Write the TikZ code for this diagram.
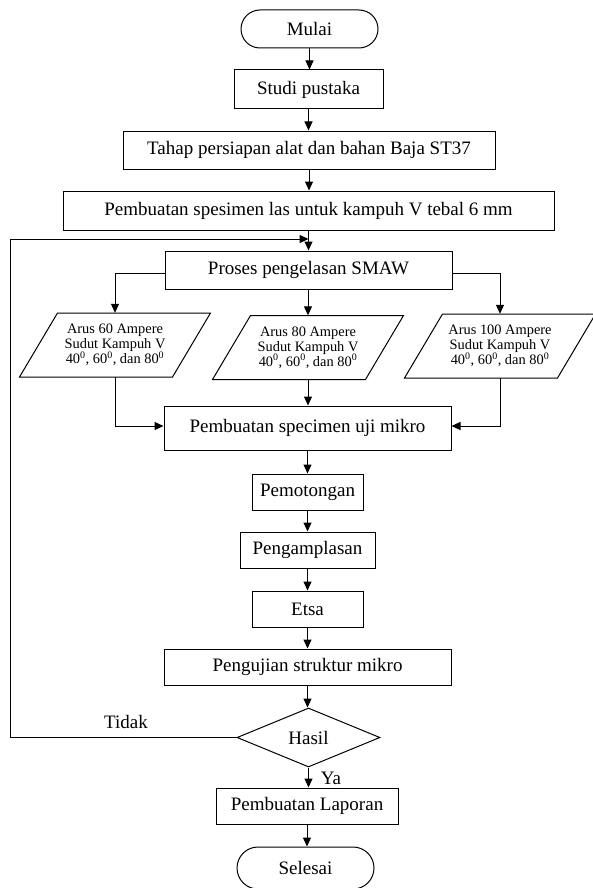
\documentclass[tikz,border=0pt]{standalone}
\usepackage{fontspec}
\setmainfont{Liberation Serif}
\usetikzlibrary{arrows.meta,shapes.geometric,calc}
\begin{document}
\begin{tikzpicture}[x=1pt,y=-1pt,
  box/.style={draw, line width=1pt, inner sep=0pt, font=\fontsize{19}{22}\selectfont},
  arr/.style={line width=1pt, -{Triangle[length=9pt,width=8pt]}},
  ln/.style={line width=1pt},
  para/.style={inner sep=0pt, minimum height=64pt, align=center, font=\fontsize{14.4}{15}\selectfont},
  lbl/.style={inner sep=0pt, font=\fontsize{19}{22}\selectfont}]
\useasboundingbox (0,0) rectangle (592,888);
\node[box, rounded corners=19pt, minimum width=137pt, minimum height=38pt] (mulai) at (309.5,29) {Mulai};
\node[box, minimum width=149pt, minimum height=39pt] (studi) at (308.5,89.5) {Studi pustaka};
\node[box, minimum width=372pt, minimum height=38pt] (tahap) at (309,150) {Tahap persiapan alat dan bahan Baja ST37};
\node[box, minimum width=491pt, minimum height=39pt] (spes) at (308.5,210.5) {Pembuatan spesimen las untuk kampuh V tebal 6 mm};
\node[box, minimum width=287pt, minimum height=38pt] (proses) at (308.5,270) {Proses pengelasan SMAW};
\node[para] (p1) at (115,345) {Arus 60 Ampere\\Sudut Kampuh V\\40\textsuperscript{0}, 60\textsuperscript{0}, dan 80\textsuperscript{0}};
\node[para] (p2) at (308,347.5) {Arus 80 Ampere\\Sudut Kampuh V\\40\textsuperscript{0}, 60\textsuperscript{0}, dan 80\textsuperscript{0}};
\node[para] (p3) at (500,346) {Arus 100 Ampere\\Sudut Kampuh V\\40\textsuperscript{0}, 60\textsuperscript{0}, dan 80\textsuperscript{0}};
\foreach \p in {p1,p2,p3}
  \draw[ln] ([shift={(-95.5,32)}]\p.center) -- ++(153,0) -- ++(38,-64) -- ++(-153,0) -- cycle;
\node[box, minimum width=287pt, minimum height=44pt] (uji) at (307.5,428) {Pembuatan specimen uji mikro};
\node[box, minimum width=111pt, minimum height=36pt] (potong) at (307.5,492) {Pemotongan};
\node[box, minimum width=135pt, minimum height=36pt] (amplas) at (307.5,550) {Pengamplasan};
\node[box, minimum width=111pt, minimum height=36pt] (etsa) at (307.5,609) {Etsa};
\node[box, minimum width=287pt, minimum height=36pt] (uji2) at (307.5,667) {Pengujian struktur mikro};
\node[box, diamond, minimum width=143pt, minimum height=59pt] (hasil) at (308.5,737.5) {Hasil};
\node[box, minimum width=182pt, minimum height=36pt] (lapor) at (307,806) {Pembuatan Laporan};
\node[box, rounded corners=21pt, minimum width=137pt, minimum height=42pt] (selesai) at (305.5,868) {Selesai};
\coordinate (loopL) at (10,737.5);
\coordinate (loopT) at (10,239);
\node[lbl] (tidak) at (126,722) {Tidak};
\node[lbl] (ya) at (331,778) {Ya};
% connectors
\draw[arr] (mulai.south) -- (mulai.south |- studi.north);
\draw[arr] (studi.south) -- (studi.south |- tahap.north);
\draw[arr] (tahap.south) -- (tahap.south |- spes.north);
\draw[arr] (spes.south) -- (spes.south |- proses.north);
\draw[arr] (hasil.west) -- (loopL) -- (loopT) -- (spes.south |- loopT);
\draw[arr] ([yshift=-3pt]proses.west) -| (p1.north);
\draw[arr] (p2.north |- proses.south) -- (p2.north);
\draw[arr] ([yshift=-3pt]proses.east) -| (p3.north);
\draw[arr] (p1.south) |- ([yshift=2pt]uji.west);
\draw[arr] (p2.south) -- (p2.south |- uji.north);
\draw[arr] (p3.south) |- ([yshift=2pt]uji.east);
\draw[arr] (uji.south) -- (uji.south |- potong.north);
\draw[arr] (potong.south) -- (potong.south |- amplas.north);
\draw[arr] (amplas.south) -- (amplas.south |- etsa.north);
\draw[arr] (etsa.south) -- (etsa.south |- uji2.north);
\draw[arr] (uji2.south) -- (uji2.south |- hasil.north);
\draw[arr] (hasil.south) -- (hasil.south |- lapor.north);
\draw[arr] (lapor.south) -- (lapor.south |- selesai.north);
\end{tikzpicture}
\end{document}
